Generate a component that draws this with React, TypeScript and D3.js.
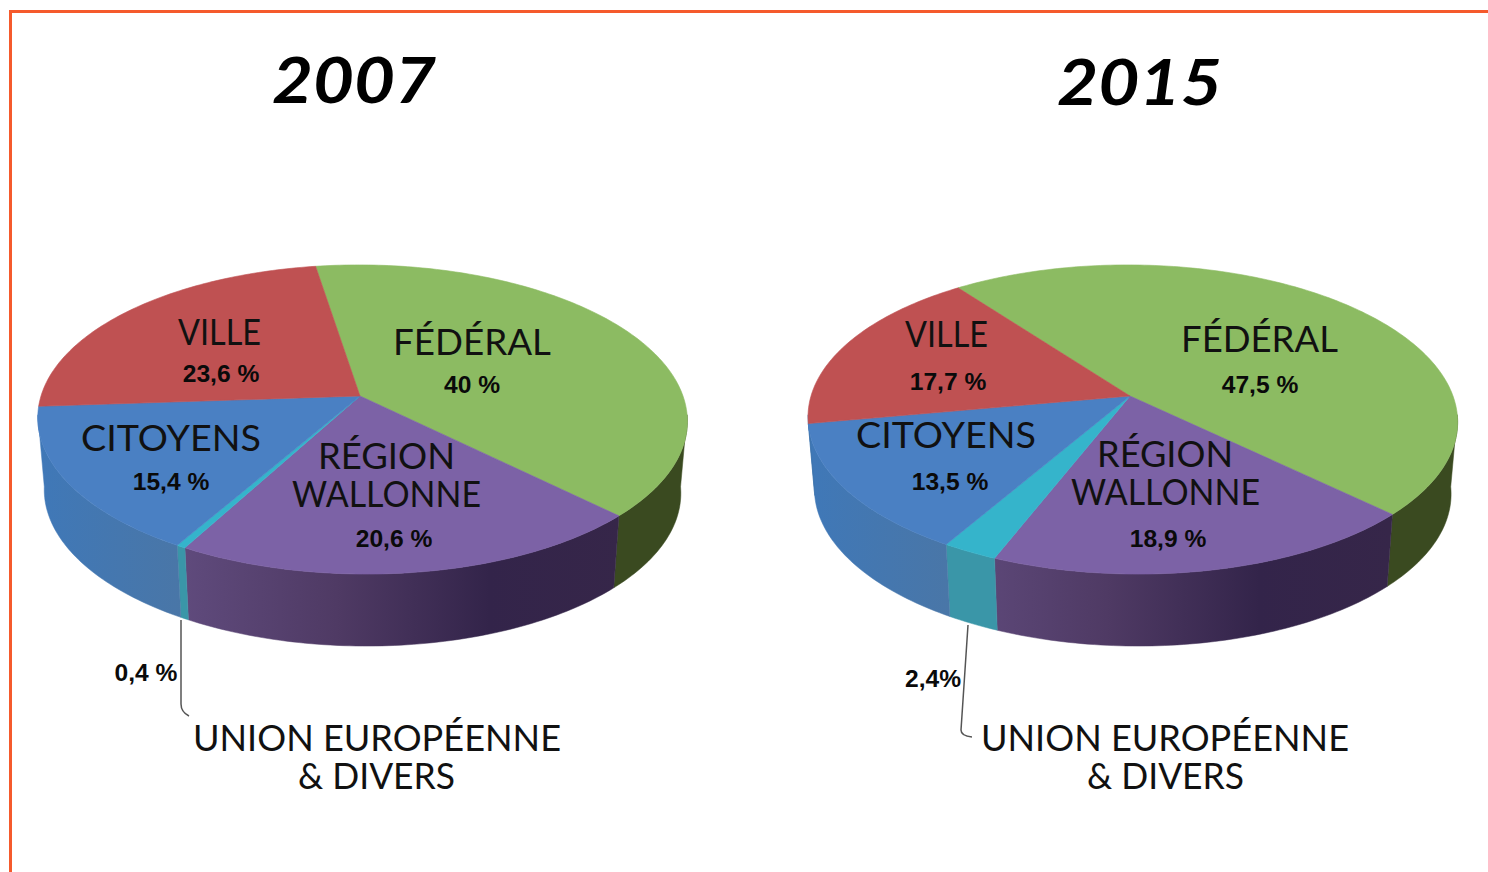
import React from "react";
import * as d3 from "d3";

const categories = ["FÉDÉRAL", "RÉGION WALLONNE", "UNION EUROPÉENNE & DIVERS", "CITOYENS", "VILLE"];
const values2007 = [40, 20.6, 0.4, 15.4, 23.6];
const values2015 = [47.5, 18.9, 2.4, 13.5, 17.7];
const pctLabels2007 = ["40 %", "20,6 %", "0,4 %", "15,4 %", "23,6 %"];
const pctLabels2015 = ["47,5 %", "18,9 %", "2,4%", "13,5 %", "17,7 %"];

const topColors = ["#8cbb62", "#7c62a6", "#35b4cb", "#4a80c3", "#bf5152"];

// perspective disc: apex is not the middle of the ellipse
const R = 321;
const RY = 151;
const K = 0.152;
const DEPTH = 72;
const BOTTOM_SCALE = 0.98;
const deg = Math.PI / 180;

const project = (a: number, shear: number): [number, number] => {
  const u = Math.sin(a);
  const v = -Math.cos(a);
  const s = 1 / (1 - K * v);
  const y = RY * v * s;
  return [R * u * s + 2 + shear * y, y];
};
const lower = ([x, y]: [number, number]): [number, number] => [x * BOTTOM_SCALE, y + DEPTH];

const line = d3.line<[number, number]>().curve(d3.curveLinearClosed);

const arcSamples = (a0: number, a1: number) => {
  const n = Math.max(2, Math.ceil((a1 - a0) / (1 * deg)));
  return d3.range(n + 1).map((i) => a0 + ((a1 - a0) * i) / n);
};

type Row = { text: string; x0: number; x1: number; y: number };

// rows of one label share a single <text>
function Word({ rows }: { rows: Row[] }) {
  return (
    <text fontFamily="Lato" fontWeight={400} fontSize={36} fill="#111">
      {rows.map((l) => (
        <tspan key={l.text} x={l.x0} y={l.y} textLength={l.x1 - l.x0} lengthAdjust="spacingAndGlyphs">
          {l.text}
        </tspan>
      ))}
    </text>
  );
}

function Pct({ text, x, y }: { text: string; x: number; y: number }) {
  return (
    <text x={x} y={y} textAnchor="middle" fontFamily="Liberation Sans" fontWeight={700} fontSize={24.6} fill="#0a0a0a">
      {text}
    </text>
  );
}

function Pie3D({
  id,
  values,
  cx,
  cy,
  start,
  shear,
}: {
  id: string;
  values: number[];
  cx: number;
  cy: number;
  start: number;
  shear: number;
}) {
  const pie = d3
    .pie<number>()
    .sort(null)
    .startAngle(start * deg)
    .endAngle((start + 360) * deg);
  const arcs = pie(values);
  const purple = d3
    .scaleLinear<string>()
    .domain([0, 0.35, 0.7, 1])
    .range(["#5f4a7c", "#4f3a64", "#33244a", "#362649"]);
  // the wall is only seen between the two silhouette points
  const wallMin = 97 * deg;
  const wallMax = 263 * deg;
  const wallFill = ["#3a4a20", `url(#${id}-p)`, "#3a96a8", `url(#${id}-b)`, "#3f74ad"];

  return (
    <g transform={`translate(${cx},${cy})`}>
      <defs>
        <linearGradient id={`${id}-p`} gradientUnits="userSpaceOnUse" x1={-175} x2={260} y1={0} y2={0}>
          {[0, 0.35, 0.7, 1].map((t) => (
            <stop key={t} offset={t} stopColor={purple(t)} />
          ))}
        </linearGradient>
        <linearGradient id={`${id}-b`} gradientUnits="userSpaceOnUse" x1={-325} x2={-170} y1={0} y2={0}>
          <stop offset={0} stopColor="#3f78b8" />
          <stop offset={1} stopColor="#4a76a6" />
        </linearGradient>
      </defs>
      {arcs.map((d, i) => {
        const a0 = Math.max(d.startAngle, wallMin);
        const a1 = Math.min(d.endAngle, wallMax);
        if (a1 <= a0) return null;
        const top = arcSamples(a0, a1).map((a) => project(a, shear));
        const pts = [...top, ...top.map(lower).reverse()];
        return <path key={i} d={line(pts) ?? ""} fill={wallFill[i]} stroke={wallFill[i]} strokeWidth={0.5} />;
      })}
      {arcs.map((d, i) => {
        const pts: [number, number][] = [
          [0, 0],
          ...arcSamples(d.startAngle, d.endAngle).map((a) => project(a, shear)),
        ];
        return (
          <path key={i} d={line(pts) ?? ""} fill={topColors[i]} stroke={topColors[i]} strokeWidth={0.6}>
            <title>{categories[i]}</title>
          </path>
        );
      })}
    </g>
  );
}

const leftWords: Row[][] = [
  [{ text: "VILLE", x0: 178, x1: 261, y: 345 }],
  [{ text: "FÉDÉRAL", x0: 393, x1: 551, y: 355 }],
  [{ text: "CITOYENS", x0: 81, x1: 261, y: 451 }],
  [
    { text: "RÉGION", x0: 318, x1: 455, y: 469 },
    { text: "WALLONNE", x0: 292, x1: 481, y: 507 },
  ],
  [
    { text: "UNION EUROPÉENNE", x0: 193, x1: 561, y: 751 },
    { text: "& DIVERS", x0: 298, x1: 455, y: 789 },
  ],
];
const rightWords: Row[][] = [
  [{ text: "VILLE", x0: 905, x1: 988, y: 347 }],
  [{ text: "FÉDÉRAL", x0: 1181, x1: 1338, y: 352 }],
  [{ text: "CITOYENS", x0: 856, x1: 1036, y: 448 }],
  [
    { text: "RÉGION", x0: 1097, x1: 1233, y: 467 },
    { text: "WALLONNE", x0: 1071, x1: 1260, y: 505 },
  ],
  [
    { text: "UNION EUROPÉENNE", x0: 981, x1: 1349, y: 751 },
    { text: "& DIVERS", x0: 1087, x1: 1244, y: 789 },
  ],
];
const leftPctPos: [number, number][] = [[472, 393], [394, 547], [146, 681], [171, 490], [221, 382]];
const rightPctPos: [number, number][] = [[1260, 393], [1168, 547], [933, 687], [950, 490], [948, 390]];

export default function App() {
  return (
    <svg
      width={1488}
      height={872}
      style={{ position: "absolute", left: 0, top: 0, display: "block", background: "#fff" }}
    >
      <path d="M1488,11.5H10.5V872" fill="none" stroke="#f55a2c" strokeWidth={3} />

      <text x={272} y={103} textLength={164} lengthAdjust="spacingAndGlyphs" fontFamily="Lato" fontStyle="italic" fontWeight={700} fontSize={63} fill="#000">2007</text>
      <text x={1057} y={105} textLength={165} lengthAdjust="spacingAndGlyphs" fontFamily="Lato" fontStyle="italic" fontWeight={700} fontSize={63} fill="#000">2015</text>

      <Pie3D id="a" values={values2007} cx={360} cy={396} start={-8.9} shear={0.025} />
      <Pie3D id="b" values={values2015} cx={1130} cy={396} start={-36.5} shear={0.035} />

      <path d="M181,620V704Q181,712 189,716" fill="none" stroke="#555" strokeWidth={1.5} />
      <path d="M968,625L961,730Q961,736 972,737" fill="none" stroke="#555" strokeWidth={1.5} />

      {leftWords.map((rows) => <Word key={rows[0].text} rows={rows} />)}
      {rightWords.map((rows) => <Word key={rows[0].text} rows={rows} />)}
      {pctLabels2007.map((t, i) => <Pct key={t} text={t} x={leftPctPos[i][0]} y={leftPctPos[i][1]} />)}
      {pctLabels2015.map((t, i) => <Pct key={t} text={t} x={rightPctPos[i][0]} y={rightPctPos[i][1]} />)}
    </svg>
  );
}
